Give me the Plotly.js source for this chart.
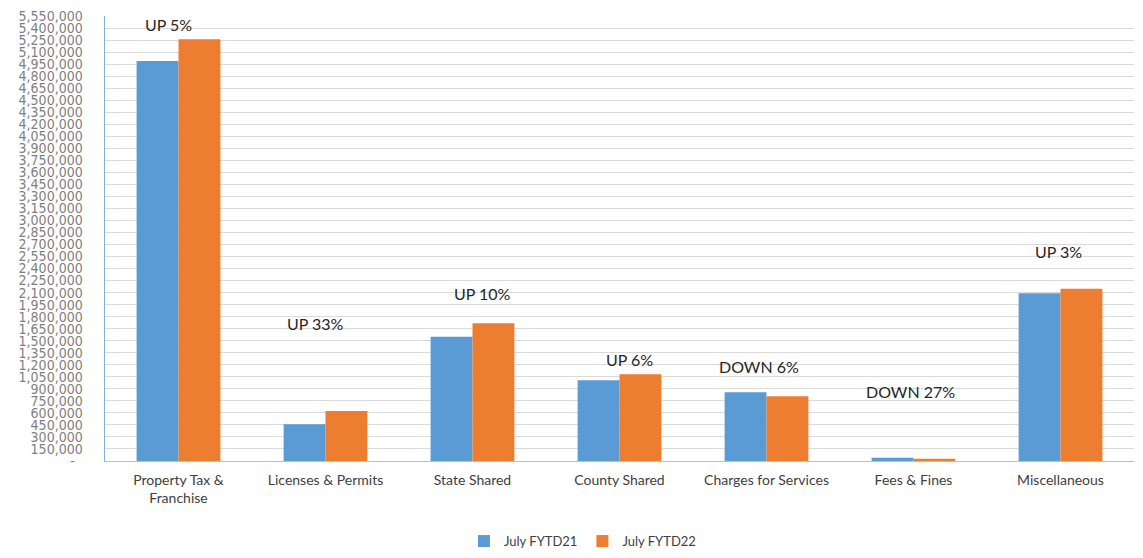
<!DOCTYPE html>
<html>
<head>
<meta charset="utf-8">
<script src="https://cdn.plot.ly/plotly-3.0.1.min.js"></script>
<style>html,body{margin:0;padding:0;background:#fff;}#chart{width:1143px;height:558px;}</style>
</head>
<body>
<div id="chart"></div>
<script>
const categories = ["Property Tax &<br>Franchise", "Licenses & Permits", "State Shared", "County Shared", "Charges for Services", "Fees & Fines", "Miscellaneous"];
const fytd21 = [4990000, 458000, 1550000, 1006000, 857000, 40000, 2092000];
const fytd22 = [5260000, 623000, 1717000, 1081000, 807000, 29000, 2149000];
const seriesNames = ["July FYTD21", "July FYTD22"];
const changeLabels = ["UP 5%", "UP 33%", "UP 10%", "UP 6%", "DOWN 6%", "DOWN 27%", "UP 3%"];
const labelY = [5440000, 1720000, 2095000, 1260000, 1176000, 873000, 2610000];
const labelShift = [-10, -10, 10, 10, -8, -3, -2];

const yMax = 5550000, yStep = 150000;
const tickVals = [], tickText = [];
for (let v = 0; v <= yMax; v += yStep) {
  tickVals.push(v);
  tickText.push(v === 0 ? "-\u00a0\u00a0" : v.toLocaleString("en-US"));
}

const traces = [
  {type: "bar", name: seriesNames[0], x: categories, y: fytd21, marker: {color: "#5b9bd5"}},
  {type: "bar", name: seriesNames[1], x: categories, y: fytd22, marker: {color: "#ed7d31"}}
];

const annotations = changeLabels.map((t, i) => ({
  x: i, y: labelY[i], xref: "x", yref: "y", text: t, showarrow: false,
  xshift: labelShift[i], font: {family: "Lato, 'Open Sans', sans-serif", size: 16, color: "#262626"}
}));

const layout = {
  width: 1143, height: 558,
  margin: {l: 105, r: 9, t: 16, b: 97, autoexpand: false},
  paper_bgcolor: "#ffffff", plot_bgcolor: "#ffffff",
  barmode: "group", bargap: 0.43, bargroupgap: 0,
  font: {family: "Lato, 'Open Sans', sans-serif", color: "#404040"},
  showlegend: true,
  legend: {orientation: "h", x: 0.464, xanchor: "center", y: -0.18, yanchor: "middle",
           font: {size: 13, color: "#404040"}, itemwidth: 30},
  xaxis: {
    type: "category", showgrid: false, showline: true, linecolor: "#bfbfbf", linewidth: 1,
    ticks: "", tickfont: {size: 14, color: "#404040"}, ticklabelstandoff: 6, automargin: false
  },
  yaxis: {
    range: [0, yMax], tickvals: tickVals, ticktext: tickText, automargin: false,
    showgrid: true, gridcolor: "#d9d9d9", gridwidth: 1,
    showline: true, linecolor: "#7fb0df", linewidth: 1.5,
    zeroline: false, ticks: "", tickfont: {size: 14, color: "#7f7f7f", family: "'Liberation Sans Narrow', 'DejaVu Sans Condensed', sans-serif"},
    ticklabelstandoff: 18
  },
  annotations: annotations
};

Plotly.newPlot("chart", traces, layout, {displayModeBar: false, staticPlot: true});
</script>
</body>
</html>
